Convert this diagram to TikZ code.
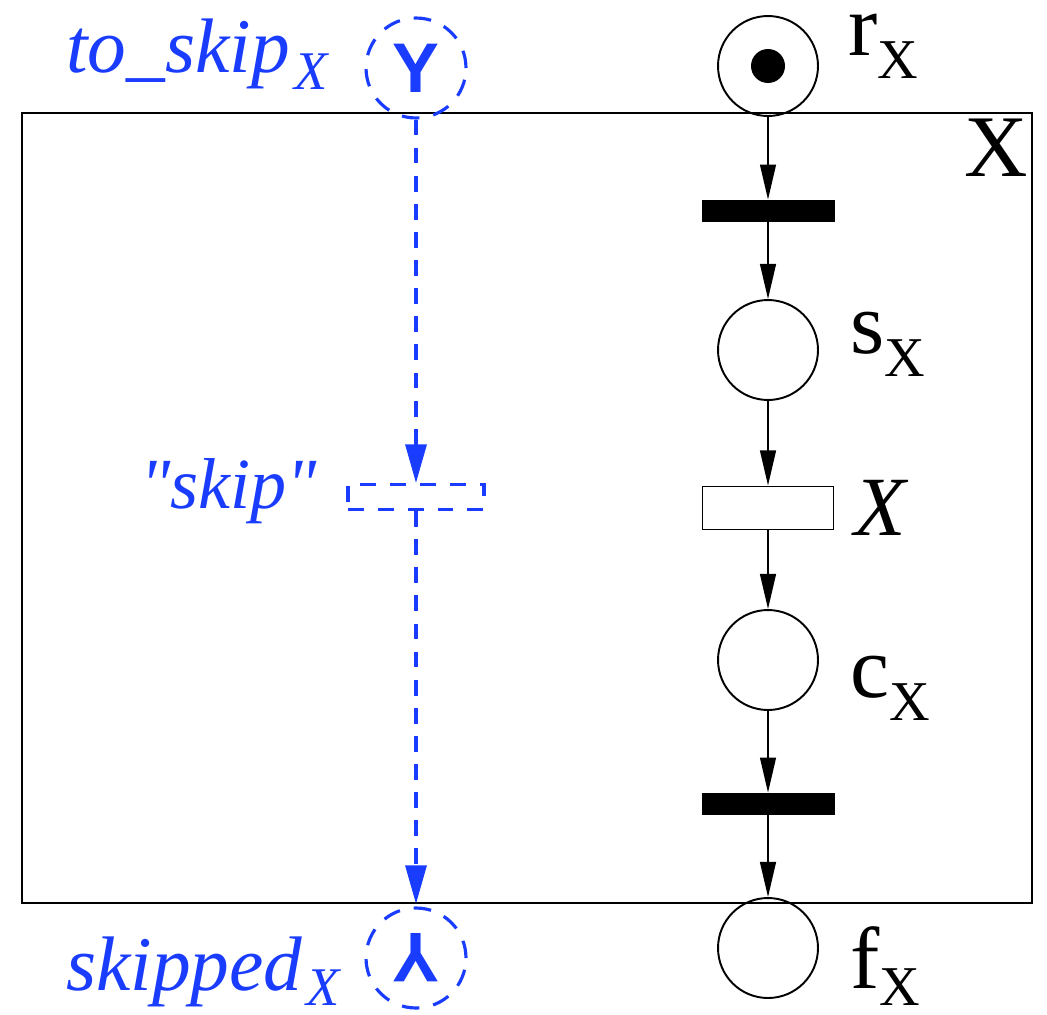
\documentclass[tikz,border=0pt]{standalone}
\usepackage{fontspec}
\setmainfont{Liberation Serif}
\newfontfamily\qserif{Liberation Serif}[Ligatures=TeXOff]
\setsansfont{Liberation Sans}
\usetikzlibrary{arrows.meta}
\definecolor{pblue}{RGB}{25,60,255}
\newcommand{\bigf}{\fontsize{50pt}{50pt}\selectfont}
\newcommand{\subf}{\fontsize{32pt}{32pt}\selectfont}
\newcommand{\blf}{\fontsize{44pt}{44pt}\selectfont\itshape}
\newcommand{\bsubf}{\fontsize{31pt}{31pt}\selectfont\itshape}
\begin{document}
\begin{tikzpicture}[x=0.02cm,y=-0.02cm,
  place/.style={draw,circle,minimum size=2cm,inner sep=0pt,line width=1.1pt},
  bplace/.style={draw=pblue,text=pblue,circle,minimum size=2cm,inner sep=0pt,line width=1.8pt,dash pattern=on 10pt off 8pt,font=\fontsize{40pt}{40pt}\selectfont\sffamily\bfseries},
  bar/.style={fill=black,minimum width=2.66cm,minimum height=0.44cm,inner sep=0pt},
  trans/.style={draw,minimum width=2.62cm,minimum height=0.86cm,inner sep=0pt,line width=1.1pt},
  btrans/.style={draw=pblue,minimum width=2.72cm,minimum height=0.5cm,inner sep=0pt,line width=1.8pt,dash pattern=on 9pt off 8pt},
  arr/.style={line width=1.1pt,-{Triangle[length=20pt,width=9pt]}},
  barr/.style={draw=pblue,line width=1.8pt,dash pattern=on 9pt off 7pt,-{Triangle[length=22pt,width=12pt]}},
  lbl/.style={anchor=base west,inner sep=0pt},
  blbl/.style={anchor=base west,inner sep=0pt,text=pblue}]
\useasboundingbox (0,0) rectangle (1047,1014);
% box
\node[draw,line width=1.1pt,minimum width=20.2cm,minimum height=15.8cm,inner sep=0pt] (box) at (527,508) {};
\node[lbl] (boxl) at (964,176) {\fontsize{50pt}{50pt}\selectfont X};
% right net
\node[place] (r) at (768,66) {};
\fill (r.center) circle (0.34cm);
\node[bar] (t1) at (768,211) {};
\node[place] (s) at (768,350) {};
\node[trans] (tx) at (768,508) {};
\node[place] (c) at (768,660) {};
\node[bar] (t2) at (768,804) {};
\node[place] (f) at (768,948) {};
\draw[arr] (r) -- (t1);
\draw[arr] (t1) -- (s);
\draw[arr] (s) -- (tx);
\draw[arr] (tx) -- (c);
\draw[arr] (c) -- (t2);
\draw[arr] (t2) -- (f);
\node[lbl] (rl) at (848,55) {\bigf r\raisebox{-13.6pt}{\subf X}};
\node[lbl] (sl) at (850,353) {\bigf s\raisebox{-13.6pt}{\subf X}};
\node[lbl] (cl) at (850,697) {\bigf c\raisebox{-13.6pt}{\subf X}};
\node[lbl] (fl) at (850,988) {\bigf f\raisebox{-10pt}{\subf X}};
\node[lbl] (txl) at (854,535) {\fontsize{48pt}{48pt}\selectfont\itshape X};
% blue skip path
\node[bplace] (ts) at (416,68) {Y};
\node[btrans] (sk) at (416,497) {};
\node[bplace] (sd) at (416,958) {\rotatebox[origin=c]{180}{Y}};
\coordinate (bb) at (ts |- box.south);
\draw[barr] (ts) -- (sk);
\draw[barr] (sk) -- (bb);
\node[blbl] (tsl) at (66,72) {\blf to\_skip\kern3pt\raisebox{-10pt}{\bsubf X}};
\node[blbl] (skl) at (140,508) {\qserif\fontsize{41pt}{41pt}\selectfont\itshape "skip"};
\node[blbl] (sdl) at (66,990) {\blf skipped\kern2pt\raisebox{-9pt}{\bsubf X}};
\end{tikzpicture}
\end{document}
